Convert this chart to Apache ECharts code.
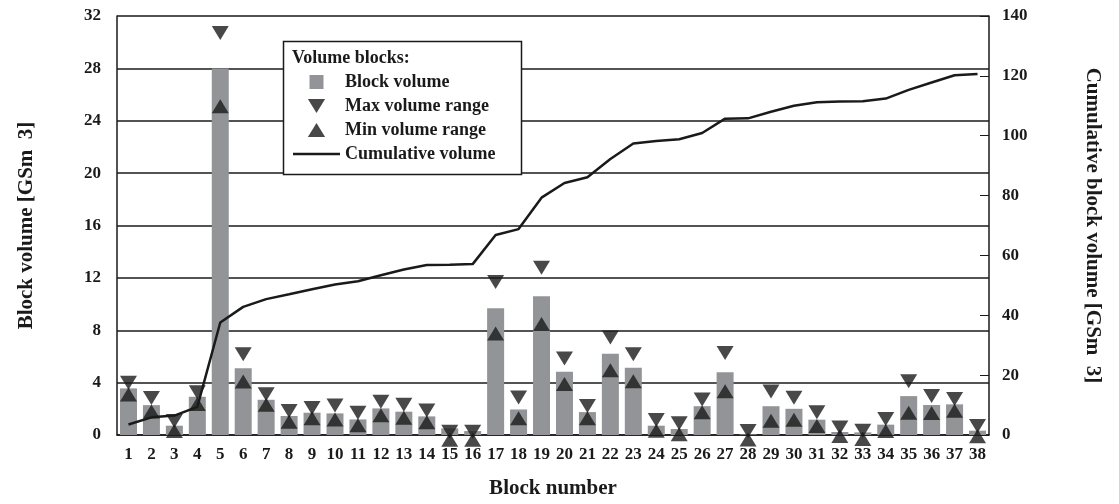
<!DOCTYPE html>
<html>
<head>
<meta charset="utf-8">
<script src="https://cdn.jsdelivr.net/npm/echarts@6/dist/echarts.min.js"></script>
<style>html,body{margin:0;padding:0;background:#fff}#c{width:1119px;height:504px}</style>
</head>
<body>
<div id="c"></div>
<script>
const blockNumbers = ['1','2','3','4','5','6','7','8','9','10','11','12','13','14','15','16','17','18','19','20','21','22','23','24','25','26','27','28','29','30','31','32','33','34','35','36','37','38'];
const blockVolume = [3.56, 2.28, 0.71, 2.92, 28.0, 5.1, 2.69, 1.45, 1.7, 1.65, 1.19, 2.03, 1.78, 1.42, 0.5, 0.3, 9.68, 1.95, 10.6, 4.83, 1.75, 6.2, 5.13, 0.71, 0.46, 2.2, 4.8, 0.05, 2.2, 2.0, 1.17, 0.23, 0.2, 0.79, 2.97, 2.29, 2.34, 0.33];
const maxVolumeRange = [4.0, 2.82, 1.07, 3.27, 30.7, 6.17, 3.12, 1.83, 2.06, 2.26, 1.7, 2.54, 2.31, 1.88, 0.25, 0.25, 11.68, 2.87, 12.77, 5.84, 2.21, 7.44, 6.17, 1.14, 0.89, 2.72, 6.27, 0.3, 3.33, 2.84, 1.73, 0.58, 0.33, 1.22, 4.11, 2.97, 2.74, 0.69];
const minVolumeRange = [3.1, 1.8, 0.3, 2.36, 25.1, 4.09, 2.31, 1.02, 1.27, 1.19, 0.74, 1.5, 1.32, 0.97, -0.36, -0.36, 7.75, 1.27, 8.48, 3.89, 1.27, 4.95, 4.11, 0.33, 0.05, 1.73, 3.35, -0.35, 1.09, 1.17, 0.69, -0.08, -0.3, 0.3, 1.7, 1.68, 1.85, -0.1];
const cumulativeVolume = [3.5, 5.9, 6.5, 9.4, 37.6, 42.8, 45.4, 47.0, 48.7, 50.3, 51.4, 53.4, 55.3, 56.8, 56.9, 57.1, 66.8, 68.8, 79.3, 84.2, 86.1, 92.2, 97.4, 98.2, 98.8, 100.9, 105.7, 105.8, 108.0, 110.0, 111.2, 111.4, 111.5, 112.4, 115.3, 117.8, 120.2, 120.6];
const leftTicks = {min: 0, max: 32, interval: 4};
const rightTicks = {min: 0, max: 140, interval: 20};

const FONT = 'Liberation Serif';
const INK = '#1a1a1a';
const DOWN = 'path://M0,0L16,0L8,13Z';
const UP = 'path://M8,0L16,13L0,13Z';
const tickFont = {fontFamily: FONT, fontWeight: 'bold', fontSize: 17, color: INK};
const titleFont = {fontFamily: FONT, fontWeight: 'bold', fontSize: 21, color: INK};

const chart = echarts.init(document.getElementById('c'), null, {renderer: 'canvas'});
chart.setOption({
  animation: false,
  backgroundColor: '#fff',
  grid: {left: 117, right: 130, top: 16, bottom: 68, containLabel: false},
  xAxis: {
    type: 'category',
    data: blockNumbers,
    boundaryGap: true,
    name: 'Block number',
    nameLocation: 'middle',
    nameGap: 43,
    nameTextStyle: titleFont,
    axisLine: {lineStyle: {color: INK, width: 1.5}},
    axisTick: {inside: true, length: 9, lineStyle: {color: INK, width: 1}},
    axisLabel: Object.assign({margin: 11, interval: 0}, tickFont)
  },
  yAxis: [
    {
      type: 'value', min: leftTicks.min, max: leftTicks.max, interval: leftTicks.interval,
      name: 'Block volume [GSm  3]',
      nameLocation: 'middle', nameRotate: 90, nameGap: 80,
      nameTextStyle: titleFont,
      axisLine: {show: true, lineStyle: {color: INK, width: 1.5}},
      axisTick: {show: false},
      axisLabel: Object.assign({margin: 16}, tickFont),
      splitLine: {show: true, lineStyle: {color: INK, width: 1.5}}
    },
    {
      type: 'value', min: rightTicks.min, max: rightTicks.max, interval: rightTicks.interval,
      position: 'right',
      name: 'Cumulative block volume [GSm  3]',
      nameLocation: 'middle', nameRotate: -90, nameGap: 93,
      nameTextStyle: titleFont,
      axisLine: {show: true, lineStyle: {color: INK, width: 1.5}},
      axisTick: {show: true, inside: true, length: 9, lineStyle: {color: INK, width: 1}},
      axisLabel: Object.assign({margin: 13}, tickFont),
      splitLine: {show: false}
    }
  ],
  legend: {
    orient: 'vertical',
    left: 288, top: 68,
    itemWidth: 47, itemHeight: 14, itemGap: 6,
    symbolKeepAspect: true,
    textStyle: {fontFamily: FONT, fontWeight: 'bold', fontSize: 18, color: INK},
    data: [
      {name: 'Block volume', icon: 'path://M0,0H10V10H0Z'},
      {name: 'Max volume range', icon: DOWN},
      {name: 'Min volume range', icon: UP},
      {name: 'Cumulative volume', icon: 'path://M0,0H47V2.5H0Z'}
    ],
    z: 10
  },
  graphic: [
    {type: 'rect', z: 8, shape: {x: 283.5, y: 41.5, width: 238, height: 133},
     style: {fill: '#fff', stroke: INK, lineWidth: 1.5}},
    {type: 'text', z: 11, x: 292, y: 58,
     style: {text: 'Volume blocks:', font: 'bold 18px "Liberation Serif"', fill: INK, textVerticalAlign: 'middle'}}
  ],
  series: [
    {
      name: 'Block volume', type: 'bar', data: blockVolume, barWidth: 17,
      itemStyle: {color: '#939497'}, z: 2
    },
    {
      name: 'Cumulative volume', type: 'line', yAxisIndex: 1, data: cumulativeVolume,
      symbol: 'none', lineStyle: {color: INK, width: 2.5}, itemStyle: {color: INK}, z: 3
    },
    {
      name: 'Max volume range', type: 'scatter', data: maxVolumeRange,
      symbol: DOWN, symbolSize: [17, 14], symbolKeepAspect: false, clip: false,
      itemStyle: {color: INK}, z: 4
    },
    {
      name: 'Min volume range', type: 'scatter', data: minVolumeRange,
      symbol: UP, symbolSize: [17, 14], symbolKeepAspect: false, clip: false,
      itemStyle: {color: INK}, z: 4
    }
  ]
});
</script>
</body>
</html>
